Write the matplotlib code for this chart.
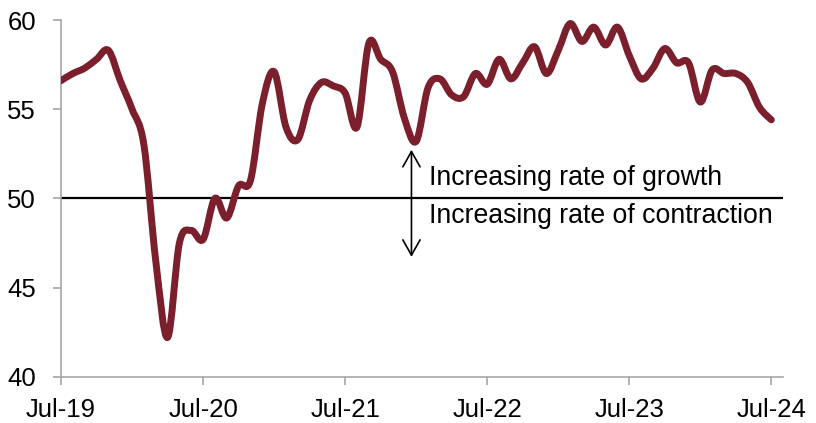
import numpy as np
import matplotlib.pyplot as plt
from matplotlib.path import Path
from matplotlib.patches import PathPatch

plt.rcParams['font.family'] = ['Liberation Sans', 'DejaVu Sans']

# monthly index, Jul-19 .. Jul-24
values = [56.6, 57.0, 57.3, 57.8, 58.3, 56.6,                              # Jul-Dec 19
          55.0, 53.0, 46.5, 42.2, 47.5, 48.2, 47.7, 50.0, 48.9, 50.7, 51.0, 55.3,  # 2020
          57.1, 54.0, 53.3, 55.5, 56.5, 56.3, 55.9, 54.0, 58.7, 57.8, 57.1, 54.5,  # 2021
          53.2, 56.2, 56.7, 55.8, 55.7, 57.0, 56.4, 57.8, 56.7, 57.6, 58.5, 57.0,  # 2022
          58.3, 59.8, 58.8, 59.6, 58.6, 59.6, 58.0, 56.7, 57.3, 58.4, 57.6, 57.6,  # 2023
          55.4, 57.2, 57.0, 57.0, 56.5, 55.1, 54.4]                         # Jan-Jul 24
tick_pos = [0, 12, 24, 36, 48, 60]
tick_labels = ['Jul-19', 'Jul-20', 'Jul-21', 'Jul-22', 'Jul-23', 'Jul-24']
y_ticks = [40, 45, 50, 55, 60]

line_col = '#7A1F2B'
axis_col = '#A6A6A6'


def smooth_path(x, y):
    # excel-like smoothed line: catmull-rom segments as cubic beziers
    pts = np.column_stack([x, y]).astype(float)
    n = len(pts)
    verts = [pts[0]]
    codes = [Path.MOVETO]
    for i in range(n - 1):
        p0 = pts[max(i - 1, 0)]
        p1 = pts[i]
        p2 = pts[i + 1]
        p3 = pts[min(i + 2, n - 1)]
        verts += [p1 + (p2 - p0) / 6, p2 - (p3 - p1) / 6, p2]
        codes += [Path.CURVE4] * 3
    return Path(verts, codes)


fig = plt.figure(figsize=(8.16, 4.23), dpi=100)
ax = fig.add_axes([0.0748, 0.1095, 0.885, 0.8432])

months = np.arange(len(values))
ax.add_patch(PathPatch(smooth_path(months, values), fill=False, edgecolor=line_col,
                       lw=5.0, capstyle='round', joinstyle='round', zorder=3))

ax.axhline(50, color='black', lw=1.6, zorder=2)

ax.annotate('', xy=(29.6, 46.72), xytext=(29.6, 52.72),
            arrowprops=dict(arrowstyle='<->,head_length=1.1,head_width=0.62',
                            mutation_scale=10, lw=1.2, color='black',
                            shrinkA=0, shrinkB=0))
ax.text(31.1, 50.75, 'Increasing rate of growth', fontsize=19.2, va='baseline')
ax.text(31.1, 48.6, 'Increasing rate of contraction', fontsize=19.2, va='baseline')

ax.set_xlim(0, 61)
ax.set_ylim(40, 60)
ax.set_xticks(tick_pos)
ax.set_xticklabels(tick_labels)
ax.set_yticks(y_ticks)

for s in ['top', 'right']:
    ax.spines[s].set_visible(False)
for s in ['left', 'bottom']:
    ax.spines[s].set_color(axis_col)
    ax.spines[s].set_linewidth(1.2)

ax.tick_params(axis='both', colors=axis_col, labelcolor='black', labelsize=18.5,
               length=6, width=1.2, direction='out')
ax.tick_params(axis='y', pad=12)
ax.tick_params(axis='x', pad=9)

fig.savefig('out.png', dpi=100)
